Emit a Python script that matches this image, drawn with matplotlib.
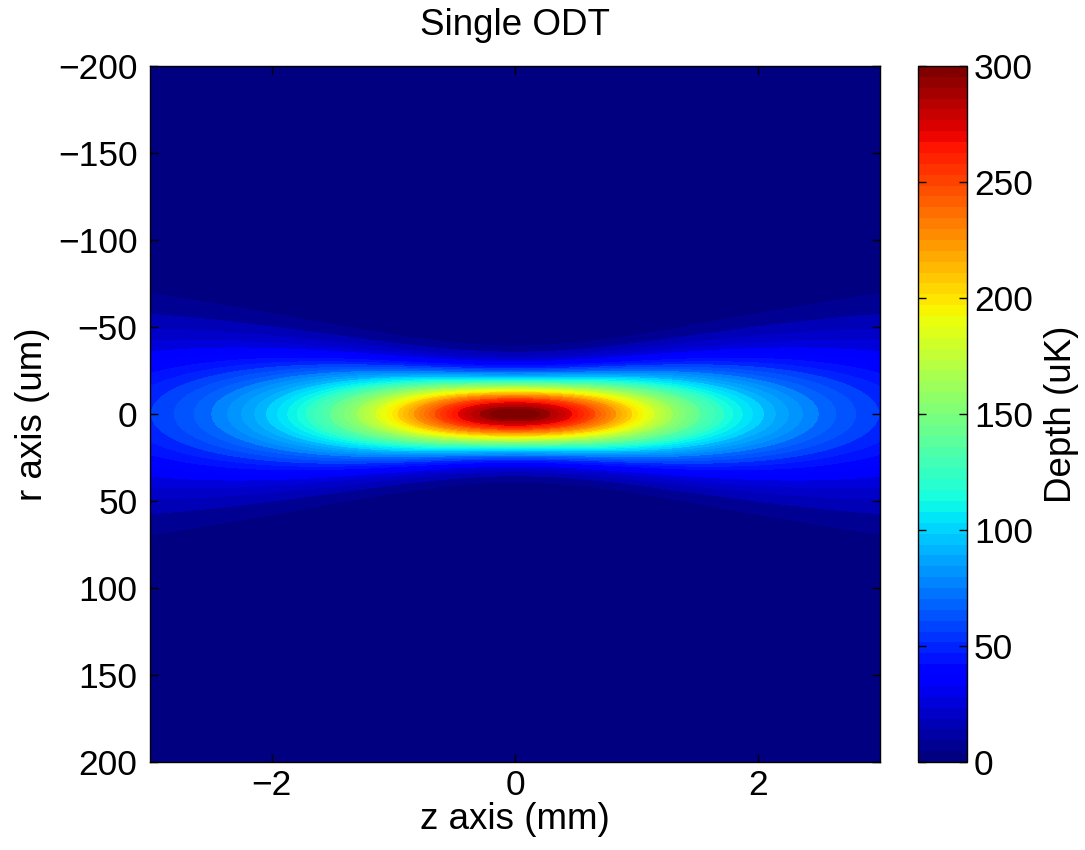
import numpy as np
import matplotlib
matplotlib.use("Agg")
import matplotlib.pyplot as plt
from matplotlib.colors import Normalize
from matplotlib.cm import ScalarMappable

# ---- values ----
title = "Single ODT"
xlabel = "z axis (mm)"
ylabel = "r axis (um)"
cbar_label = "Depth (uK)"
U0_uK = 300.0          # peak trap depth (uK)
waist_um = 28.0        # beam waist (um)
rayleigh_mm = 1.4      # Rayleigh range (mm)
z_range_mm = [-3.0, 3.0]
r_range_um = [-200.0, 200.0]
xticks = [-2, 0, 2]
yticks = [-200, -150, -100, -50, 0, 50, 100, 150, 200]
cticks = [0, 50, 100, 150, 200, 250, 300]
clim = [0, 300]
n_levels = 50
n_colors = 64

plt.rcParams['font.family'] = ['Liberation Sans', 'DejaVu Sans']

z = np.linspace(z_range_mm[0], z_range_mm[1], 601)
r = np.linspace(r_range_um[0], r_range_um[1], 801)
Z, R = np.meshgrid(z, r)
wz = waist_um * np.sqrt(1 + (Z / rayleigh_mm) ** 2)
U = U0_uK * (waist_um / wz) ** 2 * np.exp(-2 * R ** 2 / wz ** 2)

fig = plt.figure(figsize=(10.85, 8.5), dpi=100)
ax = fig.add_axes([150 / 1085, 88 / 850, 730 / 1085, 696 / 850])
cax = fig.add_axes([918 / 1085, 88 / 850, 49 / 1085, 696 / 850])

cmap = plt.get_cmap('jet', n_colors)
norm = Normalize(vmin=clim[0], vmax=clim[1])
levels = np.linspace(clim[0], clim[1], n_levels + 1)
ax.contourf(Z, R, U, levels=levels, cmap=cmap, norm=norm, extend='both')

ax.set_xlim(z_range_mm)
ax.set_ylim(r_range_um[1], r_range_um[0])
ax.set_xticks(xticks)
ax.set_yticks(yticks)
ax.tick_params(direction='in', top=True, right=True, length=6, width=1,
               labelsize=25.5, pad=9)
ax.tick_params(axis='x', pad=5)
for s in ax.spines.values():
    s.set_linewidth(1.0)
ax.set_title(title, fontsize=26.5, pad=22)
ax.set_xlabel(xlabel, fontsize=26.5, labelpad=0)
ax.set_ylabel(ylabel, fontsize=26.5, labelpad=6)

sm = ScalarMappable(norm=norm, cmap=cmap)
cb = fig.colorbar(sm, cax=cax, ticks=cticks)
cb.outline.set_linewidth(1.0)
cax.tick_params(direction='in', left=True, right=True, length=6, width=1,
                labelsize=25.5, pad=5)
cb.set_label(cbar_label, fontsize=26.5, labelpad=8)

fig.savefig("out.png", dpi=100)
